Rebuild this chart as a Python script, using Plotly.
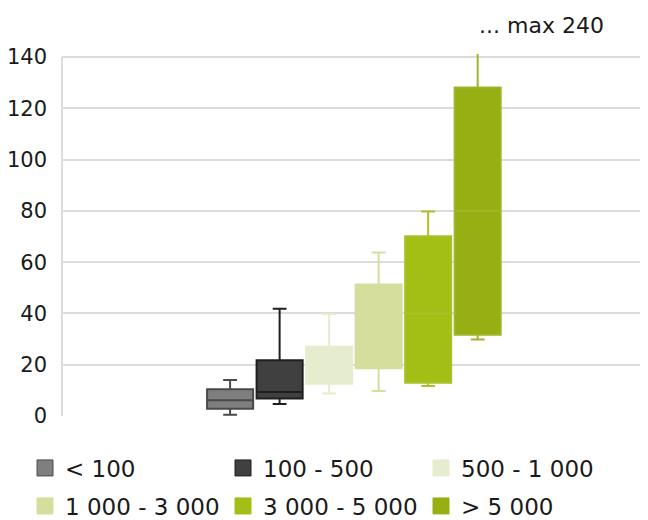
import plotly.graph_objects as go

categories = ["< 100", "100 - 500", "500 - 1 000", "1 000 - 3 000", "3 000 - 5 000", "> 5 000"]
mins = [0.5, 4.7, 8.8, 9.8, 11.7, 29.8]
q1s = [2.8, 6.8, 12.6, 18.6, 13.0, 31.7]
medians = [6.1, 9.4, 20.0, 35.0, 40.0, 80.0]
q3s = [10.4, 21.7, 27.0, 51.3, 70.1, 128.1]
maxs = [14.0, 41.8, 39.8, 63.8, 79.8, 240.0]

fills = ["#7f7f7f", "#404040", "#e6edce", "#d5de9c", "#a3be14", "#97af13"]
lines = ["#4a4a4a", "#1f1f1f", "#e6edce", "#d5de9c", "#a9c22a", "#9fb52a"]

FONT = "DejaVu Sans"

fig = go.Figure()
for i, c in enumerate(categories):
    fig.add_trace(go.Box(
        x=["g"], q1=[q1s[i]], median=[medians[i]], q3=[q3s[i]],
        lowerfence=[mins[i]], upperfence=[maxs[i]],
        name=c, fillcolor=fills[i], line=dict(color=lines[i], width=2),
        whiskerwidth=0.3, showlegend=False, hoverinfo="skip",
    ))

for i, c in enumerate(categories):
    fig.add_trace(go.Scatter(
        x=[None], y=[None], mode="markers", name=c,
        marker=dict(symbol="square", size=16, color=fills[i],
                    line=dict(color=lines[i] if i < 2 else fills[i], width=1)),
        legend="legend" if i < 3 else "legend2",
    ))

# page has an 8px body margin: figure is offset by (8, 8)
fig.update_layout(
    width=640, height=512,
    margin=dict(l=54, r=8, t=46, b=104, autoexpand=False),
    plot_bgcolor="white", paper_bgcolor="white",
    boxmode="group", boxgap=0.486, boxgroupgap=0.07,
    font=dict(family=FONT, color="#1a1a1a", size=21),
    xaxis=dict(showticklabels=False, showgrid=False, zeroline=False,
               range=[-0.505, 0.495], fixedrange=True),
    yaxis=dict(range=[0, 141.2], tickvals=[0, 20, 40, 60, 80, 100, 120, 140],
               showgrid=True, gridcolor="#dcdcdc", gridwidth=2, zeroline=False,
               tickfont=dict(size=21, family=FONT, color="#1a1a1a"),
               ticklabelstandoff=14),
    legend=dict(orientation="h", x=-0.064, y=-0.1436, xanchor="left", yanchor="middle",
                entrywidth=153, entrywidthmode="pixels",
                font=dict(size=23, family=FONT, color="#1a1a1a"), bgcolor="rgba(0,0,0,0)"),
    legend2=dict(orientation="h", x=-0.064, y=-0.2486, xanchor="left", yanchor="middle",
                 entrywidth=153, entrywidthmode="pixels",
                 font=dict(size=23, family=FONT, color="#1a1a1a"), bgcolor="rgba(0,0,0,0)"),
    shapes=[dict(type="line", xref="paper", yref="y", x0=0, x1=0, y0=0, y1=140,
                 line=dict(color="#dcdcdc", width=2))],
    annotations=[dict(text="... max 240", xref="paper", yref="paper",
                      x=(477 - 62) / 578, y=(416 - 25) / 362,
                      xanchor="left", yanchor="middle", showarrow=False,
                      font=dict(size=22, family=FONT, color="#1a1a1a"))],
)

fig.write_html("out.html")
